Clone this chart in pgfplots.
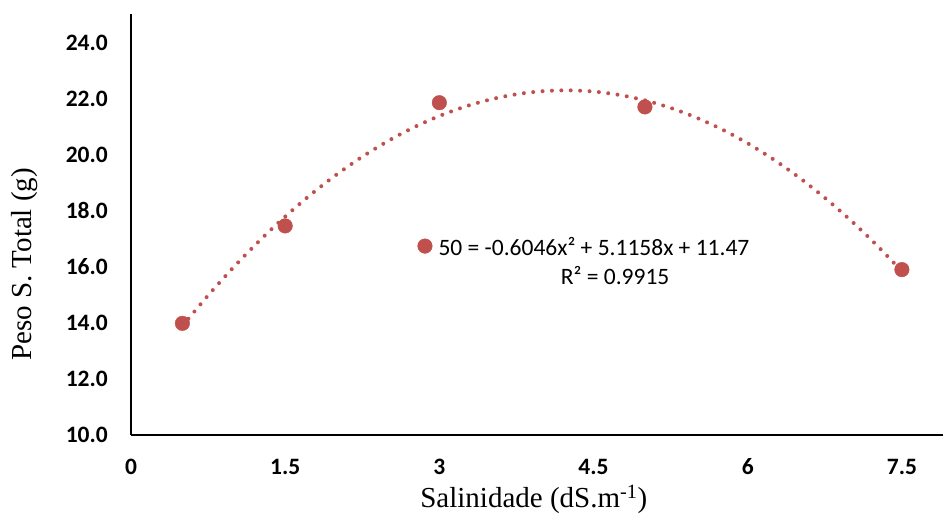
\documentclass[border=0pt]{standalone}
\usepackage{pgfplots}
\pgfplotsset{compat=1.18}
\usepackage{fontspec}
\setmainfont{Liberation Serif}
\newfontfamily\calfont{Carlito}
\definecolor{ptred}{HTML}{C0504D}
\begin{document}
\begin{tikzpicture}
\begin{axis}[
  scale only axis, width=812bp, height=420bp,
  at={(0,0)}, anchor=south west,
  xmin=0, xmax=7.9, ymin=10, ymax=25,
  axis x line=bottom, axis y line=left,
  axis line style={-, line width=2bp, black},
  xtick={0,1.5,3,4.5,6,7.5}, xticklabels={0,1.5,3,4.5,6,7.5},
  ytick={10,12,14,16,18,20,22,24},
  yticklabels={10.0,12.0,14.0,16.0,18.0,20.0,22.0,24.0},
  major tick length=0pt,
  tick label style={font=\calfont\bfseries\fontsize{23.5bp}{28bp}\selectfont, inner sep=0pt},
  yticklabel style={anchor=east, xshift=-23bp},
  xticklabel style={anchor=base, yshift=-40bp},
  xlabel={Salinidade (dS.m\textsuperscript{-1})},
  ylabel={Peso S. Total (g)},
  every axis x label/.style={at={(rel axis cs:0.496,0)}, anchor=base, yshift=-73bp, inner sep=0pt, font=\fontsize{29bp}{34bp}\selectfont},
  every axis y label/.style={at={(rel axis cs:0,0.405)}, xshift=-106bp, rotate=90, anchor=center, inner sep=0pt, font=\fontsize{29bp}{34bp}\selectfont},
  clip=false,
]
% polynomial trendline y = -0.6046x^2 + 5.1158x + 11.47 (evaluated points)
\addplot[ptred, line width=4bp, line cap=round, dash pattern=on 0pt off 9.4bp, smooth] coordinates {
(0.5,13.8768) (0.75,14.9668) (1.0,15.9812) (1.25,16.9201) (1.5,17.7834)
(1.75,18.5711) (2.0,19.2832) (2.25,19.9198) (2.5,20.4808) (2.75,20.9662)
(3.0,21.3760) (3.25,21.7103) (3.5,21.9690) (3.75,22.1521) (4.0,22.2596)
(4.25,22.2916) (4.5,22.2480) (4.75,22.1288) (5.0,21.9340) (5.25,21.6637)
(5.5,21.3178) (5.75,20.8963) (6.0,20.3992) (6.25,19.8266) (6.5,19.1784)
(6.75,18.4546) (7.0,17.6552) (7.25,16.7803) (7.5,15.8298)
};
% observed data
\addplot[only marks, mark=*, mark size=7.3bp, mark options={fill=ptred, draw=ptred}] coordinates {
(0.5,13.97) (1.5,17.45) (3,21.85) (5,21.70) (7.5,15.89)
};
% legend-like marker beside equation
\addplot[only marks, mark=*, mark size=7.3bp, mark options={fill=ptred, draw=ptred}] coordinates {
(2.86,16.73)
};
\node[anchor=west, inner sep=0pt, font=\calfont\fontsize{23.5bp}{28bp}\selectfont] at (axis cs:2.99,16.73) {50 = -0.6046x² + 5.1158x + 11.47};
\node[anchor=center, inner sep=0pt, font=\calfont\fontsize{23.5bp}{28bp}\selectfont] at (axis cs:4.71,15.68) {R² = 0.9915};
\end{axis}
\pgfresetboundingbox
\path[use as bounding box] (-131bp,-80.5bp) rectangle (812bp,434.5bp);
\end{tikzpicture}
\end{document}
